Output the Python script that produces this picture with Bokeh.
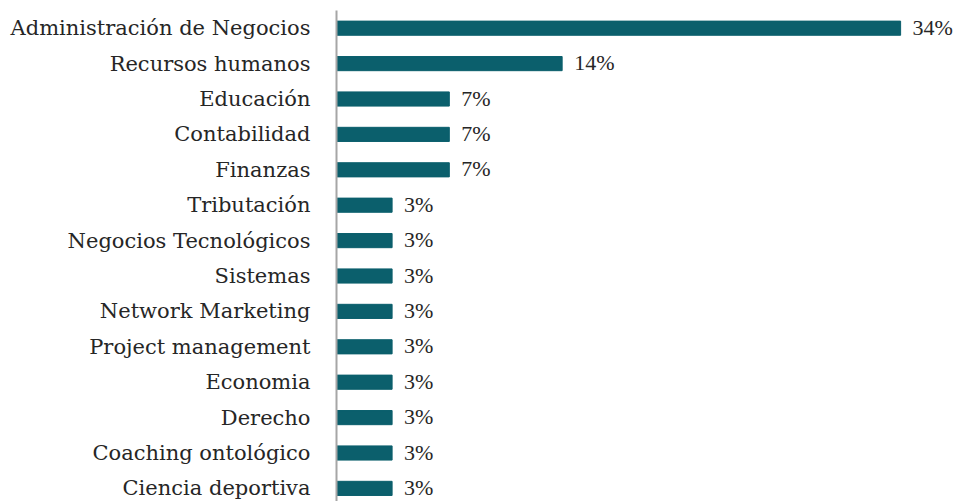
from bokeh.plotting import figure
from bokeh.models import ColumnDataSource, Range1d, LabelSet, FixedTicker
from bokeh.embed import file_html
from bokeh.resources import INLINE

categories = ["Administración de Negocios", "Recursos humanos", "Educación", "Contabilidad",
              "Finanzas", "Tributación", "Negocios Tecnológicos", "Sistemas",
              "Network Marketing", "Project management", "Economia", "Derecho",
              "Coaching ontológico", "Ciencia deportiva"]
values = [34.5, 13.8, 6.9, 6.9, 6.9, 3.4, 3.4, 3.4, 3.4, 3.4, 3.4, 3.4, 3.4, 3.4]
labels = ["34%", "14%", "7%", "7%", "7%", "3%", "3%", "3%", "3%", "3%", "3%", "3%", "3%", "3%"]

FONT = "DejaVu Serif"
BAR = "#0b5f6c"
TXT = "#262626"

pos = list(range(len(categories)))
src = ColumnDataSource(dict(pos=pos, val=values, lab=labels))

p = figure(width=958, height=501, output_backend="svg", toolbar_location=None,
           y_range=Range1d(len(categories) - 0.63, -0.5),
           x_range=Range1d(0, 38.04),
           min_border_left=336, min_border_right=0, min_border_top=10, min_border_bottom=0)
p.hbar(y="pos", right="val", left=0, height=0.4, source=src, color=BAR)
p.add_layout(LabelSet(x="val", y="pos", text="lab", source=src, x_offset=12, y_offset=1,
                      text_baseline="middle", text_font=FONT, text_font_size="22px",
                      text_color=TXT))

p.xaxis.visible = False
p.xgrid.visible = False
p.ygrid.visible = False
p.outline_line_color = None
ax = p.yaxis[0]
ax.ticker = FixedTicker(ticks=pos)
ax.major_label_overrides = {i: c for i, c in zip(pos, categories)}
ax.major_tick_line_color = None
ax.minor_tick_line_color = None
ax.major_tick_out = 0
ax.major_tick_in = 0
ax.minor_tick_out = 0
ax.axis_line_color = "#a6a6a6"
ax.axis_line_width = 2
ax.major_label_standoff = 26
ax.major_label_text_font = FONT
ax.major_label_text_font_size = "21px"
ax.major_label_text_color = TXT

open("out.html", "w").write(file_html(p, INLINE))
